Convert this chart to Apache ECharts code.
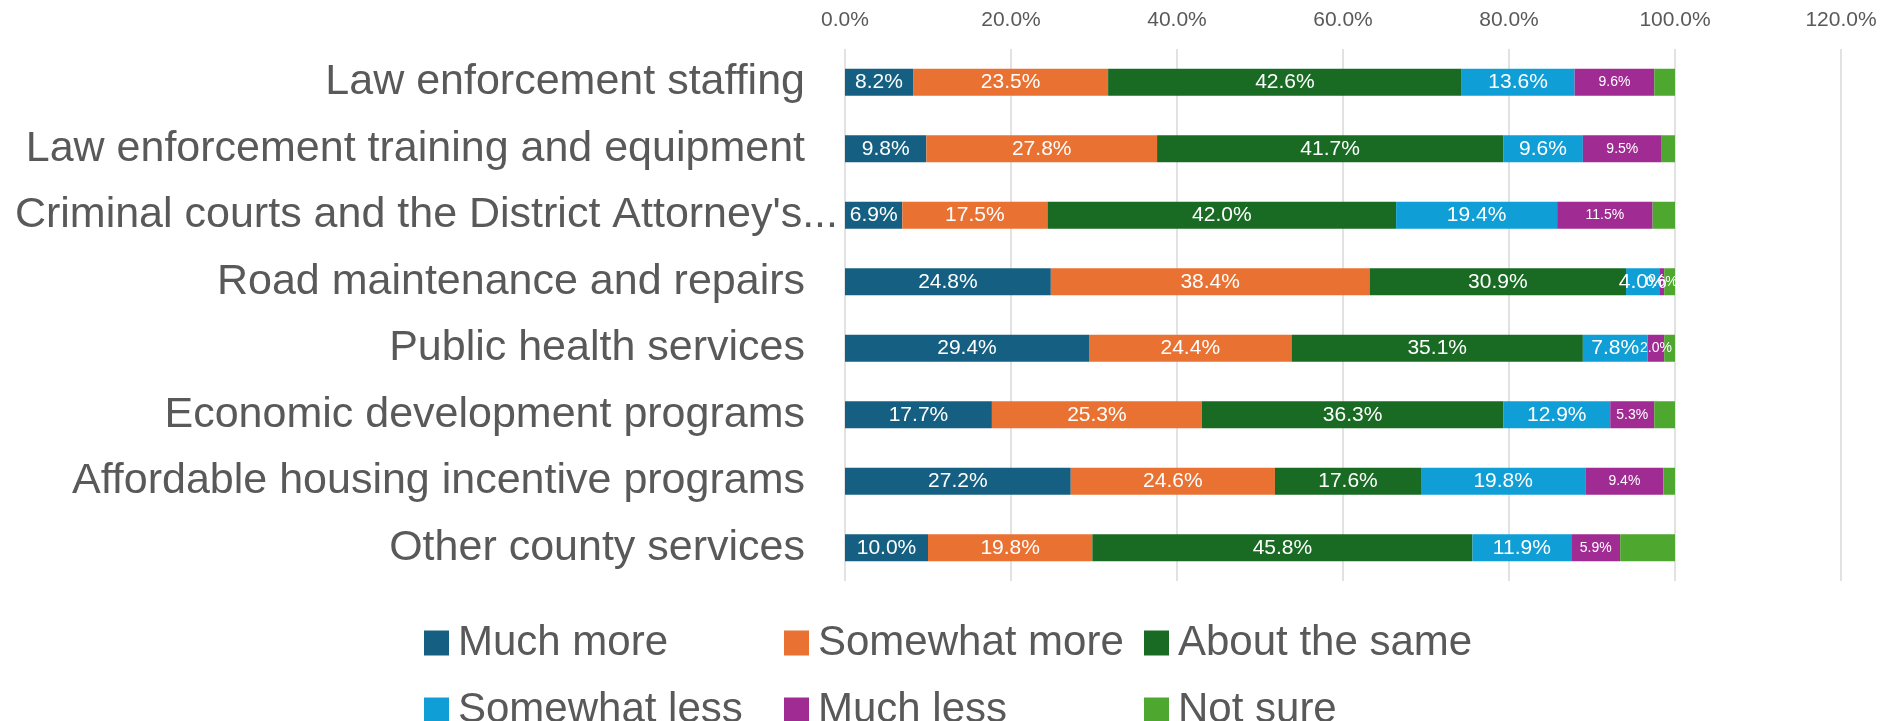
<!DOCTYPE html>
<html>
<head>
<meta charset="utf-8">
<script src="https://cdn.jsdelivr.net/npm/echarts@6/dist/echarts.min.js"></script>
<style>
html,body{margin:0;padding:0;background:#fff;}
#chart{width:1897px;height:721px;}
</style>
</head>
<body>
<div id="chart"></div>
<script>
const categories = [
  "Law enforcement staffing",
  "Law enforcement training and equipment",
  "Criminal courts and the District Attorney's...",
  "Road maintenance and repairs",
  "Public health services",
  "Economic development programs",
  "Affordable housing incentive programs",
  "Other county services"
];
const seriesNames = ["Much more", "Somewhat more", "About the same", "Somewhat less", "Much less", "Not sure"];
const muchMore      = [8.2, 9.8, 6.9, 24.8, 29.4, 17.7, 27.2, 10.0];
const somewhatMore  = [23.5, 27.8, 17.5, 38.4, 24.4, 25.3, 24.6, 19.8];
const aboutSame     = [42.6, 41.7, 42.0, 30.9, 35.1, 36.3, 17.6, 45.8];
const somewhatLess  = [13.6, 9.6, 19.4, 4.0, 7.8, 12.9, 19.8, 11.9];
const muchLess      = [9.6, 9.5, 11.5, 0.6, 2.0, 5.3, 9.4, 5.9];
const notSure       = [2.5, 1.6, 2.7, 1.3, 1.3, 2.5, 1.4, 6.6];
const tickValues    = [0, 20, 40, 60, 80, 100, 120];

const colors = ["#156082", "#E97132", "#196B24", "#0F9ED5", "#A02B93", "#4EA72E"];
const FONT = "'Liberation Sans', Arial, sans-serif";
const allData = [muchMore, somewhatMore, aboutSame, somewhatLess, muchLess, notSure];
const labelSizes = [21, 21, 21, 21, 14, 0];

const series = seriesNames.map((name, i) => ({
  name: name,
  type: 'bar',
  stack: 'total',
  barWidth: 27,
  data: allData[i],
  itemStyle: { color: colors[i] },
  label: {
    show: labelSizes[i] > 0,
    position: 'inside',
    color: '#ffffff',
    fontFamily: FONT,
    fontSize: labelSizes[i] || 12,
    formatter: p => p.value.toFixed(1) + '%'
  },
  emphasis: { disabled: true }
}));

const chart = echarts.init(document.getElementById('chart'), null, { renderer: 'canvas' });
chart.setOption({
  animation: false,
  color: colors,
  grid: { left: 845, right: 56, top: 49, bottom: 140, containLabel: false },
  xAxis: {
    type: 'value',
    position: 'top',
    min: tickValues[0],
    max: tickValues[tickValues.length - 1],
    interval: 20,
    axisLine: { show: false },
    axisTick: { show: false },
    splitLine: { show: true, lineStyle: { color: '#d9d9d9', width: 1.5 } },
    axisLabel: {
      color: '#595959',
      fontFamily: FONT,
      fontSize: 21,
      margin: 18,
      formatter: v => v.toFixed(1) + '%'
    }
  },
  yAxis: {
    type: 'category',
    inverse: true,
    data: categories,
    axisLine: { show: false },
    axisTick: { show: false },
    axisLabel: {
      color: '#595959',
      fontFamily: FONT,
      fontSize: 43,
      margin: 7,
      formatter: v => {
        if (v.endsWith('...')) {
          return '{a|' + v + '}';
        }
        return '{a|' + v + '}{s| }';
      },
      rich: {
        a: { color: '#595959', fontFamily: FONT, fontSize: 43 },
        s: { color: '#595959', fontFamily: FONT, fontSize: 43, width: 33 }
      }
    }
  },
  legend: {
    data: seriesNames,
    left: 419,
    top: 613,
    width: 1080,
    orient: 'horizontal',
    itemWidth: 25,
    itemHeight: 25,
    itemGap: 17,
    icon: 'rect',
    selectedMode: false,
    textStyle: {
      color: '#595959',
      fontFamily: FONT,
      fontSize: 42,
      lineHeight: 50,
      width: 309,
      padding: [0, 0, 0, 4]
    }
  },
  series: series
});
</script>
</body>
</html>
